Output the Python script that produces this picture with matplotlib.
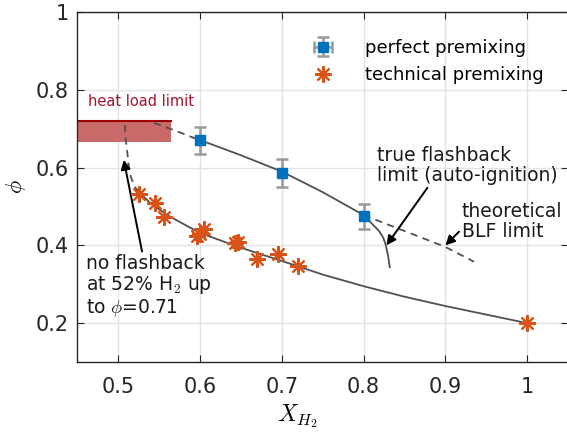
import numpy as np
import matplotlib.pyplot as plt

# perfect premixing (squares with error bars)
x_perfect = [0.60, 0.70, 0.80]
phi_perfect = [0.670, 0.587, 0.475]
err_perfect = [0.034, 0.036, 0.032]

# technical premixing (asterisks)
x_tech = [0.526, 0.545, 0.556, 0.596, 0.600, 0.605, 0.643, 0.647, 0.670, 0.696, 0.720, 1.000]
phi_tech = [0.531, 0.509, 0.473, 0.424, 0.430, 0.443, 0.405, 0.408, 0.364, 0.377, 0.347, 0.200]

# fitted limit curves
fit_perf_dash_x = [0.544, 0.570, 0.592]
fit_perf_dash_y = [0.715, 0.695, 0.677]
fit_perf_x = [0.592, 0.60, 0.65, 0.70, 0.75, 0.80]
fit_perf_y = [0.677, 0.671, 0.632, 0.590, 0.537, 0.478]
blf_x = [0.80, 0.85, 0.90, 0.935]
blf_y = [0.478, 0.437, 0.396, 0.358]
true_fb_x = [0.803, 0.812, 0.819, 0.824, 0.827, 0.830, 0.832]
true_fb_y = [0.472, 0.452, 0.437, 0.420, 0.402, 0.373, 0.344]
fit_tech_dash_x = [0.5085, 0.509, 0.511, 0.514, 0.520, 0.526]
fit_tech_dash_y = [0.710, 0.680, 0.646, 0.586, 0.552, 0.536]
fit_tech_x = [0.526, 0.54, 0.56, 0.60, 0.65, 0.70, 0.75, 0.80, 0.85, 0.90, 0.95, 1.00]
fit_tech_y = [0.536, 0.508, 0.478, 0.432, 0.394, 0.360, 0.325, 0.295, 0.268, 0.244, 0.222, 0.200]

# heat load limit band
heat_x = [0.45, 0.565]
heat_lo, heat_hi = 0.665, 0.719

blue = '#0072BD'
orange = '#D95319'
lc = '#505050'

plt.rcParams['font.family'] = 'DejaVu Sans'
plt.rcParams['mathtext.fontset'] = 'cm'

fig = plt.figure(figsize=(5.67, 4.32), dpi=100)
ax = fig.add_axes([0.136, 0.162, 0.866, 0.810])

ax.fill_between(heat_x, heat_lo, heat_hi, color='#C86A6A', lw=0, zorder=1)
ax.plot(heat_x, [heat_hi, heat_hi], color='#A00000', lw=1.5, zorder=2)
ax.text(0.463, 0.752, 'heat load limit', color='#A2142F', fontsize=10.5, va='bottom')

ax.plot(fit_perf_dash_x, fit_perf_dash_y, color=lc, lw=1.3, ls=(0, (4, 3)), zorder=3)
ax.plot(fit_perf_x, fit_perf_y, color=lc, lw=1.3, zorder=3)
ax.plot(blf_x, blf_y, color=lc, lw=1.3, ls=(0, (4, 3)), zorder=3)
ax.plot(true_fb_x, true_fb_y, color=lc, lw=1.3, zorder=3)
ax.plot(fit_tech_dash_x, fit_tech_dash_y, color=lc, lw=1.3, ls=(0, (4, 3)), zorder=3)
ax.plot(fit_tech_x, fit_tech_y, color=lc, lw=1.3, zorder=3)

eb = ax.errorbar(x_perfect, phi_perfect, yerr=err_perfect, xerr=0, fmt='s', ms=7.5,
                 color=blue, mec=blue, ecolor='#999999', elinewidth=1.8, capsize=4,
                 capthick=1.8, zorder=4, label='perfect premixing')
tp, = ax.plot(x_tech, phi_tech, ls='none', marker=(8, 2, 0), ms=12, mew=1.5,
              color=orange, zorder=5, label='technical premixing')

ann = dict(fontsize=13.5, color='#1a1a1a', linespacing=1.05)
arw = dict(arrowstyle='-|>', color='black', lw=1.4, shrinkA=0, shrinkB=0, mutation_scale=14)
ax.annotate('no flashback\nat 52% H$_2$ up\nto $\\phi$=0.71', xy=(0.507, 0.62),
            xytext=(0.461, 0.377), va='top', ha='left', arrowprops=arw, **ann)
ax.annotate('', xy=(0.828, 0.40), xytext=(0.878, 0.548), arrowprops=arw)
ax.text(0.816, 0.556, 'true flashback\nlimit (auto-ignition)', va='bottom', ha='left', **ann)
ax.annotate('theoretical\nBLF limit', xy=(0.90, 0.40), xytext=(0.92, 0.512),
            va='top', ha='left',
            arrowprops=dict(arw, relpos=(0.0, 0.3)), **ann)

ax.set_xlim(0.45, 1.05)
ax.set_ylim(0.1, 1.0)
ax.set_xticks([0.5, 0.6, 0.7, 0.8, 0.9, 1.0])
ax.set_xticklabels(['0.5', '0.6', '0.7', '0.8', '0.9', '1'])
ax.set_yticks([0.2, 0.4, 0.6, 0.8, 1.0])
ax.set_yticklabels(['0.2', '0.4', '0.6', '0.8', '1'])
ax.tick_params(direction='in', top=True, right=True, labelsize=15, length=5,
               color='#262626', labelcolor='#262626')
ax.tick_params(axis='x', pad=11)
ax.tick_params(axis='y', pad=6)
ax.grid(True, color='#e3e3e3', lw=1.0)
ax.set_axisbelow(True)
for s in ax.spines.values():
    s.set_color('#262626')
    s.set_linewidth(1.0)

ax.set_xlabel('$X_{H_2}$', fontsize=17)
ax.xaxis.set_label_coords(0.448, -0.115)
ax.set_ylabel('$\\phi$', fontsize=16)
ax.yaxis.set_label_coords(-0.10, 0.5)

ax.legend([eb, tp], ['perfect premixing', 'technical premixing'], loc='upper left',
          bbox_to_anchor=(0.42, 0.97), frameon=False, fontsize=13,
          handlelength=2.6, handletextpad=1.0, labelspacing=0.5)

fig.savefig('out.png', dpi=100)
